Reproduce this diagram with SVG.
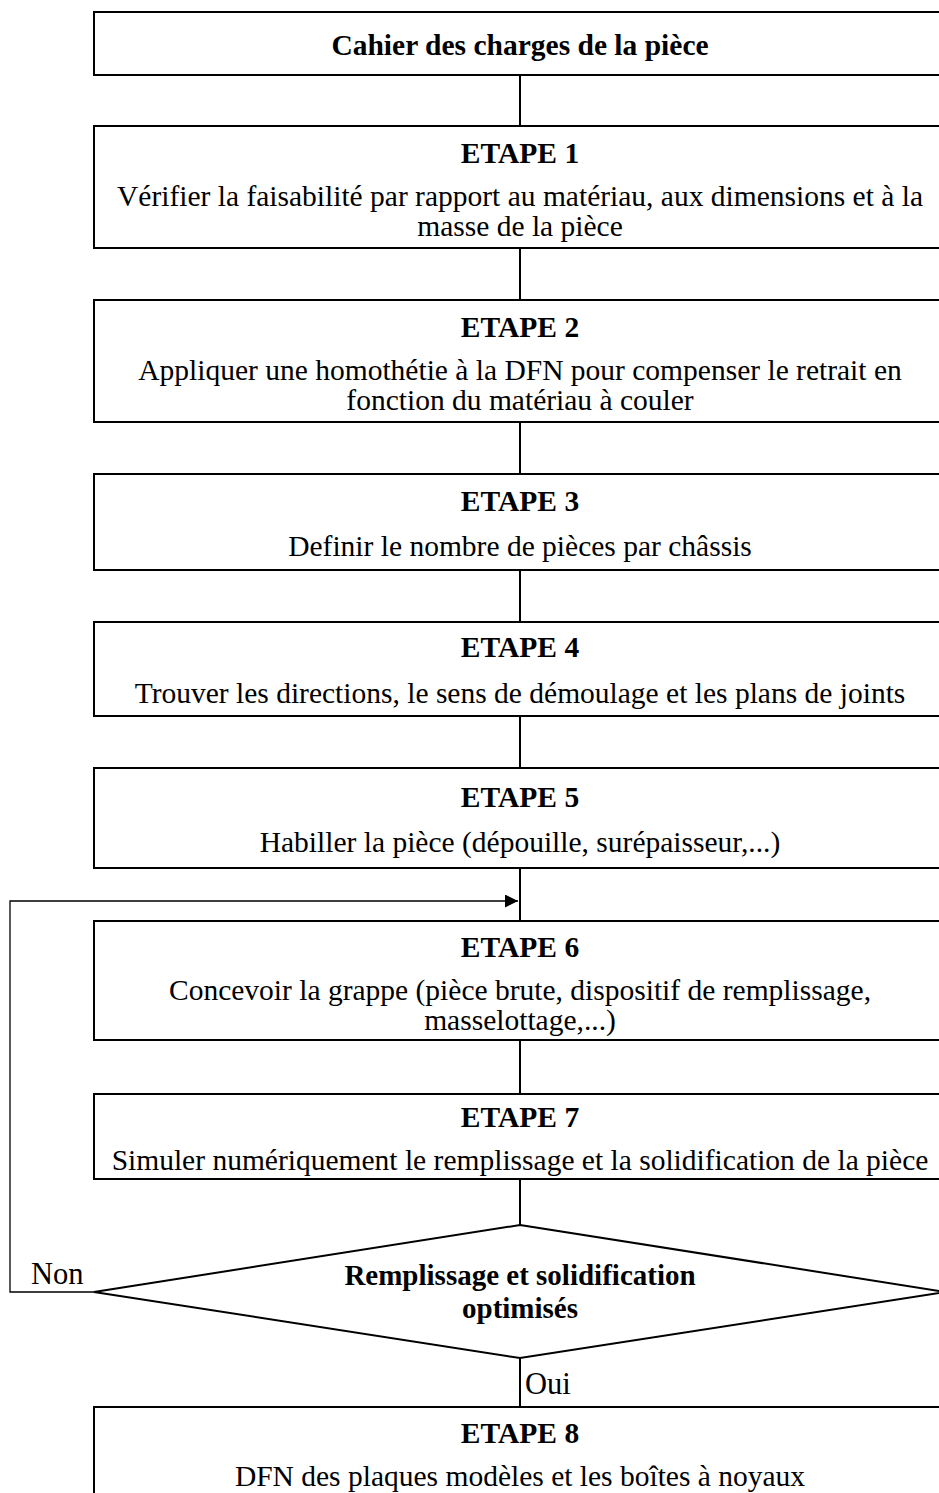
<svg xmlns="http://www.w3.org/2000/svg" width="939" height="1493" viewBox="0 0 939 1493" font-family="'Liberation Serif', Tinos, 'DejaVu Serif', serif">
  <style>
    .box { fill: #ffffff; stroke: #000000; stroke-width: 2; }
    .link { fill: none; stroke: #000000; stroke-width: 2; }
    .loop { fill: none; stroke: #000000; stroke-width: 1.3; }
    text { font-family: 'Liberation Serif', Tinos, 'DejaVu Serif', serif; font-size: 29.5px; fill: #000000; }
    .title { font-weight: bold; text-anchor: middle; }
    .body { text-anchor: middle; }
    .label { font-size: 30.5px; }
    .question { font-size: 29px; }
  </style>
  <defs>
    <marker id="arrow" viewBox="0 0 10 10" refX="10" refY="5" markerWidth="15" markerHeight="13" markerUnits="userSpaceOnUse" orient="auto">
      <path d="M0,0 L10,5 L0,10 Z" fill="#000000"/>
    </marker>
  </defs>
  <rect width="939" height="1493" fill="#ffffff"/>

  <!-- connectors -->
  <g id="connectors">
    <line class="link" x1="520" y1="75" x2="520" y2="126"/>
    <line class="link" x1="520" y1="248" x2="520" y2="300"/>
    <line class="link" x1="520" y1="422" x2="520" y2="474"/>
    <line class="link" x1="520" y1="570" x2="520" y2="622"/>
    <line class="link" x1="520" y1="716" x2="520" y2="768"/>
    <line class="link" x1="520" y1="868" x2="520" y2="921"/>
    <line class="link" x1="520" y1="1040" x2="520" y2="1094"/>
    <line class="link" x1="520" y1="1179" x2="520" y2="1225"/>
    <line class="link" x1="520" y1="1358" x2="520" y2="1407"/>
    <!-- "Non" return path back to the input of step 6 -->
    <polyline class="loop" points="94,1292 10,1292 10,901 518,901" marker-end="url(#arrow)"/>
    <text class="label" x="31" y="1284">Non</text>
    <text class="label" x="525" y="1394">Oui</text>
  </g>

  <g id="cahier">
    <rect class="box" x="94" y="12" width="856" height="63"/>
    <text class="title" x="520" y="55">Cahier des charges de la pièce</text>
  </g>

  <g id="etape1">
    <rect class="box" x="94" y="126" width="856" height="122"/>
    <text class="title" x="520" y="163">ETAPE 1</text>
    <text class="body" x="520" y="206">Vérifier la faisabilité par rapport au matériau, aux dimensions et à la</text>
    <text class="body" x="520" y="236">masse de la pièce</text>
  </g>

  <g id="etape2">
    <rect class="box" x="94" y="300" width="856" height="122"/>
    <text class="title" x="520" y="337">ETAPE 2</text>
    <text class="body" x="520" y="380">Appliquer une homothétie à la DFN pour compenser le retrait en</text>
    <text class="body" x="520" y="410">fonction du matériau à couler</text>
  </g>

  <g id="etape3">
    <rect class="box" x="94" y="474" width="856" height="96"/>
    <text class="title" x="520" y="511">ETAPE 3</text>
    <text class="body" x="520" y="556">Definir le nombre de pièces par châssis</text>
  </g>

  <g id="etape4">
    <rect class="box" x="94" y="622" width="856" height="94"/>
    <text class="title" x="520" y="657">ETAPE 4</text>
    <text class="body" x="520" y="703">Trouver les directions, le sens de démoulage et les plans de joints</text>
  </g>

  <g id="etape5">
    <rect class="box" x="94" y="768" width="856" height="100"/>
    <text class="title" x="520" y="807">ETAPE 5</text>
    <text class="body" x="520" y="852">Habiller la pièce (dépouille, surépaisseur,...)</text>
  </g>

  <g id="etape6">
    <rect class="box" x="94" y="921" width="856" height="119"/>
    <text class="title" x="520" y="957">ETAPE 6</text>
    <text class="body" x="520" y="1000">Concevoir la grappe (pièce brute, dispositif de remplissage,</text>
    <text class="body" x="520" y="1030">masselottage,...)</text>
  </g>

  <g id="etape7">
    <rect class="box" x="94" y="1094" width="856" height="85"/>
    <text class="title" x="520" y="1127">ETAPE 7</text>
    <text class="body" x="520" y="1170">Simuler numériquement le remplissage et la solidification de la pièce</text>
  </g>

  <g id="decision">
    <polygon class="box" points="520,1225 946,1292 520,1358 94,1292"/>
    <text class="title question" x="520" y="1285">Remplissage et solidification</text>
    <text class="title question" x="520" y="1318">optimisés</text>
  </g>

  <g id="etape8">
    <rect class="box" x="94" y="1407" width="856" height="100"/>
    <text class="title" x="520" y="1443">ETAPE 8</text>
    <text class="body" x="520" y="1486">DFN des plaques modèles et les boîtes à noyaux</text>
  </g>
</svg>
